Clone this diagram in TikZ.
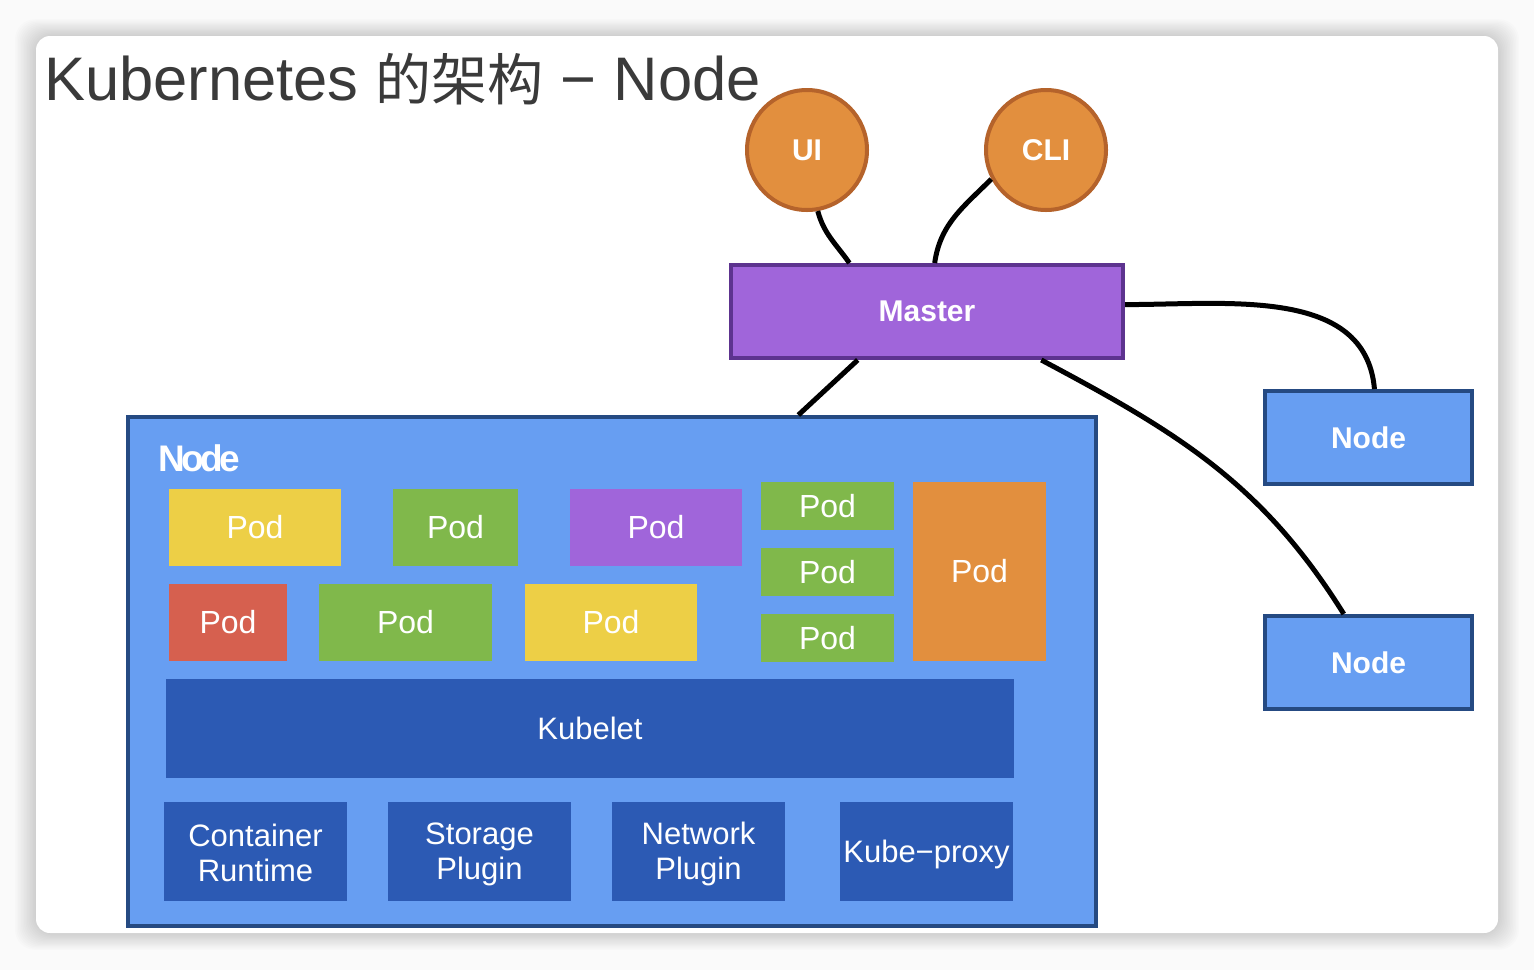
\documentclass[tikz,border=0pt]{standalone}
\usepackage{fontspec}
\setmainfont{Liberation Sans}
\newfontfamily\cjk{Noto Sans CJK SC}
\newfontfamily\tightsans[LetterSpace=-10]{Liberation Sans}
\newcommand\lblstrut{\rule[-4pt]{0pt}{32pt}}

\definecolor{titlegray}{HTML}{3A3A3A}
\definecolor{orangefill}{HTML}{E28F3E}
\definecolor{orangeline}{HTML}{B5632B}
\definecolor{purplefill}{HTML}{A065DA}
\definecolor{purpleline}{HTML}{5D338F}
\definecolor{bluefill}{HTML}{679EF2}
\definecolor{blueline}{HTML}{254A82}
\definecolor{darkblue}{HTML}{2C5AB4}
\definecolor{podyellow}{HTML}{EDCF46}
\definecolor{podgreen}{HTML}{80B84B}
\definecolor{podred}{HTML}{D6604F}

\begin{document}
\begin{tikzpicture}[x=1pt,y=-1pt,
    box/.style={inner sep=0pt, text=white},
    ball/.style={box, circle, draw=orangeline, fill=orangefill, line width=4pt,
      minimum size=120, font=\fontsize{30}{36}\selectfont\bfseries},
    master/.style={box, draw=purpleline, fill=purplefill, line width=4pt,
      minimum width=392, minimum height=93, font=\fontsize{30}{36}\selectfont\bfseries},
    worker/.style={box, draw=blueline, fill=bluefill, line width=4pt,
      minimum width=207, minimum height=93, font=\fontsize{30}{36}\selectfont\bfseries},
    pod/.style={box, minimum height=77, font=\fontsize{32}{36}\selectfont},
    smallpod/.style={pod, fill=podgreen, minimum width=133, minimum height=48},
    part/.style={box, fill=darkblue, minimum height=99, align=center,
      font=\fontsize{31}{35}\selectfont},
    link/.style={line width=5pt, black}
  ]

  % page and slide
  \fill[gray!4] (0,0) rectangle (1534,970);
  \foreach \i in {1,...,14}
    \fill[black, opacity=0.011, rounded corners=20] (36-1.5*\i,36-1.2*\i) rectangle (1498+1.5*\i,933+1.2*\i);
  \fill[white, rounded corners=14] (36,36) rectangle (1498,933);

  \node[anchor=base west, text=titlegray, inner sep=0pt, font=\fontsize{61.5}{70}\selectfont]
    (title) at (44,100) {Kubernetes {\cjk\fontsize{56}{60}\selectfont 的架构} − Node};

  % clients and master
  \node[ball] (ui) at (807,150) {UI};
  \node[ball] (cli) at (1046,150) {CLI};
  \node[master] (master) at (927,311.5) {Master};

  % other nodes
  \node[worker] (node1) at (1368.5,437.5) {Node};
  \node[worker] (node2) at (1368.5,662.5) {Node};

  % the node in detail
  \node[box, draw=blueline, fill=bluefill, line width=4pt, minimum width=968, minimum height=509]
    (bignode) at (612,671.5) {};
  \node[anchor=base west, text=white, inner sep=0pt, font=\fontsize{37}{40}\selectfont\tightsans\bfseries]
    (nodelabel) at (158,471) {Node};

  \node[pod, fill=podyellow, minimum width=172] (pod1) at (255,527.5) {Pod};
  \node[pod, fill=podgreen, minimum width=125] (pod2) at (455.5,527.5) {Pod};
  \node[pod, fill=purplefill, minimum width=172] (pod3) at (656,527.5) {Pod};
  \node[pod, fill=podred, minimum width=118] (pod4) at (228,622.5) {Pod};
  \node[pod, fill=podgreen, minimum width=173] (pod5) at (405.5,622.5) {Pod};
  \node[pod, fill=podyellow, minimum width=172] (pod6) at (611,622.5) {Pod};
  \node[smallpod] (pod7) at (827.5,506) {Pod};
  \node[smallpod] (pod8) at (827.5,572) {Pod};
  \node[smallpod] (pod9) at (827.5,638) {Pod};
  \node[pod, fill=orangefill, minimum width=133, minimum height=179] (pod10) at (979.5,571.5) {Pod};

  \node[part, minimum width=848] (kubelet) at (590,728.5) {Kubelet};
  \node[part, minimum width=183] (runtime) at (255.5,851.5) {Container\lblstrut\\Runtime\lblstrut};
  \node[part, minimum width=183] (storage) at (479.5,851.5) {Storage\lblstrut\\Plugin\lblstrut};
  \node[part, minimum width=173] (network) at (698.5,851.5) {Network\lblstrut\\Plugin\lblstrut};
  \node[part, minimum width=173] (proxy) at (926.5,851.5) {Kube−proxy\lblstrut};

  \path[link]
    (ui.-80) edge[out=-75, in=125] (master.148)
    (cli.208) edge[out=225, in=82] (master.81)
    (master.2) edge[out=0, in=95] (node1.83)
    (master.215) edge (bignode.54)
    (master.-23) edge[out=-28, in=122] (node2.117)
    ;
\end{tikzpicture}
\end{document}
